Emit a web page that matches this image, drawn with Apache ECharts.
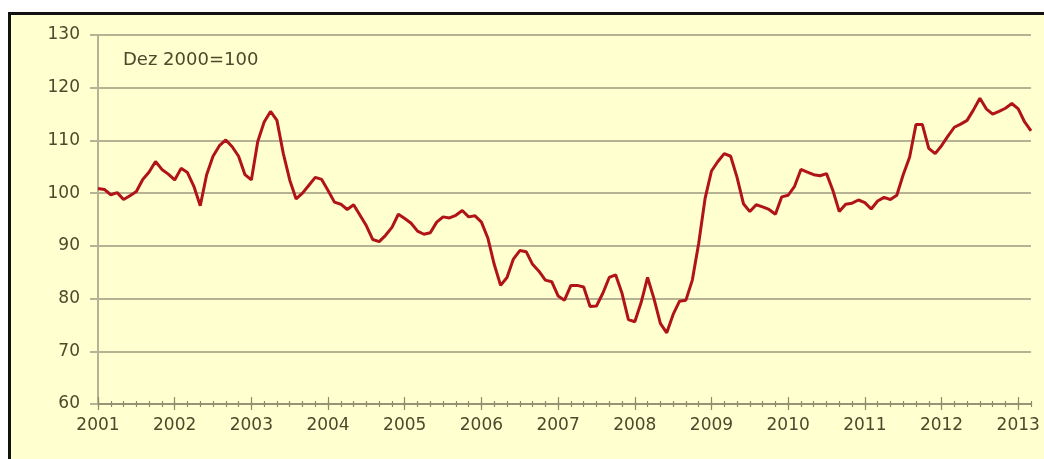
<!DOCTYPE html>
<html>
<head>
<meta charset="utf-8">
<script src="https://cdn.jsdelivr.net/npm/echarts@6/dist/echarts.min.js"></script>
<style>
html,body{margin:0;padding:0;background:#ffffff;}
#c{width:1044px;height:459px;}
</style>
</head>
<body>
<div id="c"></div>
<script>
// Monthly index, Jan 2001 .. Mar 2013 (Dez 2000 = 100)
const startYear = 2001;
const values = [
  100.9,100.7,99.7,100.1,98.8,99.5,100.3,102.6,104.0,106.0,104.5,103.6,
  102.5,104.7,103.9,101.3,97.6,103.5,107.0,109.0,110.1,108.8,107.0,103.5,
  102.5,109.8,113.5,115.5,113.8,107.5,102.5,98.9,100.0,101.5,103.0,102.6,
  100.5,98.3,97.9,96.9,97.8,95.8,93.8,91.2,90.8,92.0,93.5,96.0,
  95.2,94.3,92.8,92.2,92.5,94.5,95.5,95.3,95.8,96.7,95.5,95.7,
  94.5,91.5,86.5,82.5,84.0,87.5,89.1,88.9,86.5,85.2,83.5,83.2,
  80.5,79.7,82.5,82.5,82.2,78.5,78.6,81.0,84.0,84.5,81.0,76.0,
  75.6,79.3,84.0,80.0,75.3,73.5,77.0,79.5,79.7,83.5,90.5,99.0,
  104.2,106.0,107.5,107.0,103.0,98.0,96.5,97.8,97.4,96.9,96.0,99.3,
  99.6,101.3,104.5,104.0,103.5,103.3,103.7,100.5,96.5,97.9,98.1,98.7,
  98.2,97.0,98.5,99.2,98.8,99.6,103.5,106.8,113.0,113.0,108.5,107.5,
  109.0,110.8,112.5,113.1,113.8,115.8,118.0,116.0,115.0,115.5,116.1,117.0,
  116.0,113.5,111.8
];
const categories = values.map((v, i) => {
  const y = startYear + Math.floor(i / 12);
  const m = (i % 12) + 1;
  return y + '-' + (m < 10 ? '0' + m : m);
});
const yTicks = [60, 70, 80, 90, 100, 110, 120, 130];
const noteText = 'Dez 2000=100';

const txt = '#4a4a2c';
const tickCol = '#8d8b6c';
const gridCol = '#b5b394';
const fontFam = 'DejaVu Sans';

function xAx(show, inside, every, len, withLabel) {
  return {
    type: 'category',
    data: categories,
    boundaryGap: false,
    position: 'bottom',
    axisLine: { show: show, lineStyle: { color: tickCol, width: 1.5 } },
    axisTick: {
      show: true, inside: inside, length: len,
      interval: (idx) => idx % every === 0,
      lineStyle: { color: tickCol, width: 1.2 }
    },
    axisLabel: {
      show: withLabel,
      interval: (idx) => idx % 12 === 0,
      formatter: (v) => v.slice(0, 4),
      color: txt, fontFamily: fontFam, fontSize: 17, margin: 13
    },
    splitLine: { show: false }
  };
}

const chart = echarts.init(document.getElementById('c'), null, { renderer: 'canvas' });
chart.setOption({
  animation: false,
  backgroundColor: '#ffffff',
  graphic: [
    {
      type: 'rect', z: -10, silent: true,
      shape: { x: 9.5, y: 13.5, width: 1100, height: 500 },
      style: { fill: '#ffffcf', stroke: '#111111', lineWidth: 3 }
    },
    {
      type: 'text', left: 123, top: 51, z: 10,
      style: { text: noteText, fill: txt, font: '18px "DejaVu Sans"' }
    }
  ],
  grid: { left: 98, right: 13, top: 35, bottom: 55 },
  xAxis: [
    xAx(true, false, 12, 6, true),
    xAx(false, false, 2, 3, false),
    xAx(false, true, 2, 3, false),
    xAx(false, true, 12, 7, false)
  ],
  yAxis: {
    type: 'value',
    min: 60, max: 130, interval: 10,
    axisLine: { show: true, lineStyle: { color: gridCol, width: 2 } },
    axisTick: { show: true, length: 8, lineStyle: { color: gridCol, width: 2 } },
    axisLabel: {
      color: txt, fontFamily: fontFam, fontSize: 17, margin: 18,
      formatter: (v) => yTicks.indexOf(v) >= 0 ? String(v) : ''
    },
    splitLine: { show: true, lineStyle: { color: gridCol, width: 2 } }
  },
  series: [{
    type: 'line',
    xAxisIndex: 0,
    data: values,
    symbol: 'none',
    smooth: false,
    lineStyle: { color: '#b0141a', width: 3 },
    z: 5
  }]
});
</script>
</body>
</html>
